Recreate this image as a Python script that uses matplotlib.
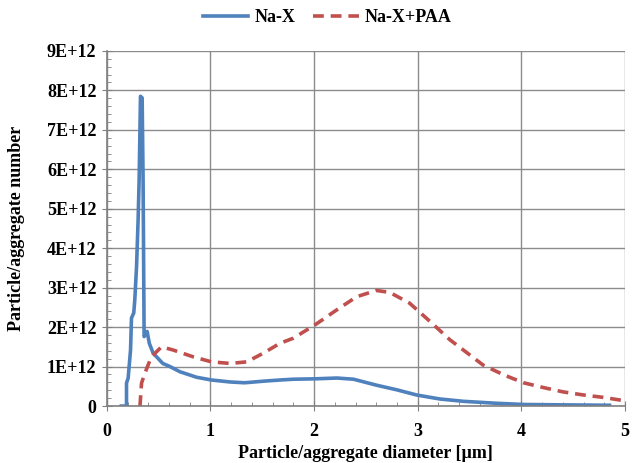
import numpy as np
import matplotlib.pyplot as plt
from matplotlib.ticker import MultipleLocator, FuncFormatter

# size distributions: diameter [um] and number [x1E12]
nax_d = [0.14, 0.19, 0.19, 0.206, 0.229, 0.238, 0.26, 0.27, 0.287, 0.302, 0.312,
         0.325, 0.341, 0.35, 0.36, 0.389, 0.41, 0.447, 0.54, 0.61, 0.705, 0.866,
         1.01, 1.19, 1.33, 1.51, 1.67, 1.80, 2.01, 2.22, 2.38, 2.60, 2.80, 2.99,
         3.21, 3.44, 3.76, 4.02, 4.40, 4.85]
nax_n = [0.0, 0.0, 0.58, 0.71, 1.42, 2.23, 2.36, 2.69, 3.54, 4.72, 5.74,
         7.85, 7.81, 5.74, 1.76, 1.89, 1.59, 1.34, 1.08, 1.0, 0.87, 0.73,
         0.66, 0.61, 0.59, 0.63, 0.66, 0.68, 0.69, 0.71, 0.68, 0.53, 0.41, 0.28,
         0.18, 0.12, 0.07, 0.04, 0.03, 0.02]

paa_d = [0.32, 0.335, 0.367, 0.43, 0.528, 0.64, 0.83, 1.01, 1.19, 1.35, 1.51,
         1.67, 1.80, 2.01, 2.22, 2.41, 2.60, 2.73, 2.92, 3.12, 3.31, 3.44, 3.63,
         3.83, 4.02, 4.21, 4.40, 4.60, 4.79, 4.98]
paa_n = [0.0, 0.58, 0.83, 1.25, 1.5, 1.42, 1.25, 1.12, 1.08, 1.12, 1.34,
         1.59, 1.72, 2.06, 2.44, 2.77, 2.93, 2.88, 2.61, 2.14, 1.68, 1.42, 1.04,
         0.79, 0.59, 0.47, 0.36, 0.28, 0.22, 0.14]

plt.rcParams['font.family'] = ['Liberation Serif', 'DejaVu Serif']
plt.rcParams['font.weight'] = 'bold'

fig = plt.figure(figsize=(6.32, 4.63), dpi=100)
ax = fig.add_axes([0.169, 0.123, 0.820, 0.767])

ax.plot(nax_d, np.array(nax_n) * 1e12, color='#4F81BD', lw=2.6, label='Na-X',
        solid_joinstyle='round')
ax.plot(paa_d, np.array(paa_n) * 1e12, color='#C0504D', lw=2.6,
        dashes=(3.0, 1.9), label='Na-X+PAA')

ax.set_xlim(0, 5)
ax.set_ylim(0, 9e12)
ax.xaxis.set_major_locator(MultipleLocator(1))
ax.xaxis.set_minor_locator(MultipleLocator(0.2))
ax.yaxis.set_major_locator(MultipleLocator(1e12))
ax.yaxis.set_minor_locator(MultipleLocator(0.2e12))
ax.yaxis.set_major_formatter(FuncFormatter(
    lambda v, p: '0' if v == 0 else '%dE+12' % round(v / 1e12)))
ax.xaxis.set_major_formatter(FuncFormatter(lambda v, p: '%d' % round(v)))

ax.grid(True, which='major', color='#8C8C8C', lw=1.0)
ax.set_axisbelow(True)
for s in ['top', 'right']:
    ax.spines[s].set_visible(False)
for s in ['left', 'bottom']:
    ax.spines[s].set_color('#808080')
    ax.spines[s].set_linewidth(1.2)
ax.tick_params(which='major', direction='inout', length=7, color='#808080',
               labelsize=13)
ax.tick_params(axis='y', which='major', pad=4)
ax.tick_params(axis='x', which='major', pad=9)
ax.tick_params(which='minor', direction='in', length=3, color='#808080')

ax.set_xlabel('Particle/aggregate diameter [\u00b5m]', fontsize=13, fontweight='bold')
ax.set_ylabel('Particle/aggregate number', fontsize=13, fontweight='bold')
ax.yaxis.set_label_coords(-0.158, 0.5)
ax.xaxis.set_label_coords(0.5, -0.11)

fig.legend(*ax.get_legend_handles_labels(), loc='center',
           bbox_to_anchor=(0.518, 0.962), ncol=2, frameon=False, fontsize=13,
           handlelength=2.5, handletextpad=0.35, columnspacing=1.0)

fig.savefig('out.png', dpi=100)
